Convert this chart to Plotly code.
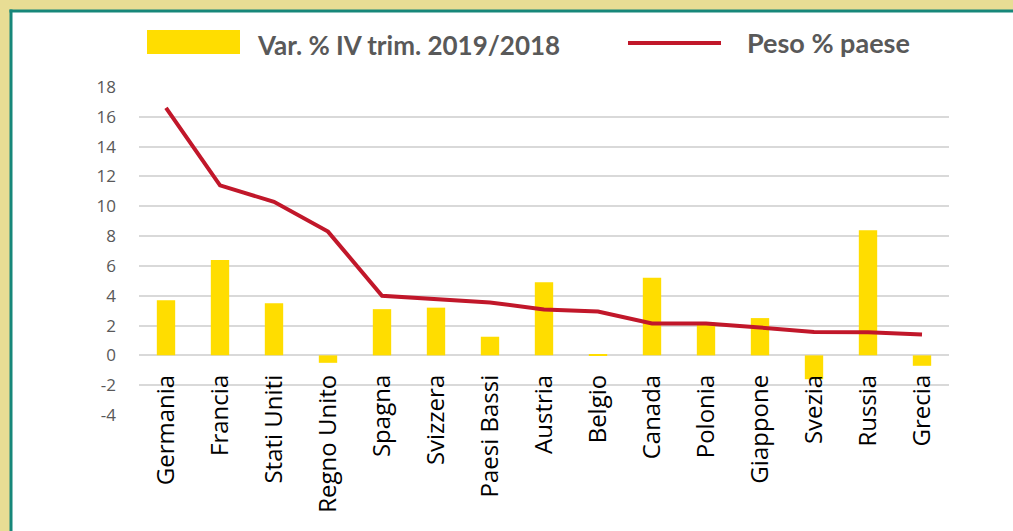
import plotly.graph_objects as go

categories = ["Germania", "Francia", "Stati Uniti", "Regno Unito", "Spagna", "Svizzera",
              "Paesi Bassi", "Austria", "Belgio", "Canada", "Polonia", "Giappone",
              "Svezia", "Russia", "Grecia"]
var_pct = [3.7, 6.4, 3.5, -0.5, 3.1, 3.2, 1.25, 4.9, 0.05, 5.2, 2.2, 2.5, -1.6, 8.4, -0.7]
peso_pct = [16.6, 11.4, 10.3, 8.3, 4.0, 3.8, 3.55, 3.08, 2.94, 2.14, 2.14, 1.87, 1.56, 1.55, 1.4]
y_ticks = list(range(-4, 19, 2))
y_tick_text = [str(v) for v in y_ticks]
bar_name = "Var. % IV trim. 2019/2018"
line_name = "Peso % paese"

W, H = 1013, 531
L, R, T, B = 139, 949, 87, 415
pw, ph = R - L, B - T


def px(x):
    return (x - L) / pw


def py(y):
    return (B - y) / ph


BEIGE = "#e8dd94"
TEAL = "#17877a"
YELLOW = "#ffdd00"
RED = "#c1172a"
GREY_TXT = "#595959"

fig = go.Figure()
fig.add_trace(go.Bar(x=categories, y=var_pct, name=bar_name, marker_color=YELLOW,
                     marker_line_width=0, width=0.34, showlegend=False))
fig.add_trace(go.Scatter(x=categories, y=peso_pct, name=line_name, mode="lines",
                         line=dict(color=RED, width=4), showlegend=False))

shapes = [
    # beige frame strips (left and top)
    dict(type="rect", xref="paper", yref="paper",
         x0=px(-5), x1=px(10), y0=py(-5), y1=py(H + 5),
         fillcolor=BEIGE, line=dict(width=0), layer="below"),
    dict(type="rect", xref="paper", yref="paper",
         x0=px(-5), x1=px(W + 5), y0=py(-5), y1=py(10),
         fillcolor=BEIGE, line=dict(width=0), layer="below"),
    # teal border lines
    dict(type="line", xref="paper", yref="paper",
         x0=px(11), x1=px(11), y0=py(9.5), y1=py(H + 5),
         line=dict(color=TEAL, width=3)),
    dict(type="line", xref="paper", yref="paper",
         x0=px(9.5), x1=px(W + 5), y0=py(11), y1=py(11),
         line=dict(color=TEAL, width=3)),
    # legend swatches
    dict(type="rect", xref="paper", yref="paper",
         x0=px(147), x1=px(240), y0=py(30), y1=py(54),
         fillcolor=YELLOW, line=dict(width=0)),
    dict(type="line", xref="paper", yref="paper",
         x0=px(628), x1=px(721), y0=py(43), y1=py(43),
         line=dict(color=RED, width=4)),
]

annotations = [
    dict(text="<b>" + bar_name + "</b>", xref="paper", yref="paper",
         x=px(255), y=py(45), xanchor="left", yanchor="middle", showarrow=False,
         font=dict(family="Lato", size=26, color=GREY_TXT)),
    dict(text="<b>" + line_name + "</b>", xref="paper", yref="paper",
         x=px(745), y=py(42), xanchor="left", yanchor="middle", showarrow=False,
         font=dict(family="Lato", size=27, color=GREY_TXT)),
]

fig.update_layout(
    width=W, height=H,
    margin=dict(l=L, r=W - R, t=T, b=H - B, pad=0),
    paper_bgcolor="white", plot_bgcolor="rgba(0,0,0,0)",
    shapes=shapes, annotations=annotations,
    xaxis=dict(type="category", showgrid=False, showline=False, zeroline=False,
               ticks="", tickangle=-90, anchor="free", position=(B - 356) / ph,
               ticklabelstandoff=13,
               tickfont=dict(family="Open Sans", size=24, color="black")),
    yaxis=dict(range=[-4, 18], tickvals=y_ticks, ticktext=y_tick_text,
               showgrid=True, gridcolor="#d9d9d9",
               gridwidth=1.5, zeroline=False, showline=False, ticks="",
               ticklabelstandoff=22,
               tickfont=dict(family="Open Sans", size=17, color=GREY_TXT)),
    showlegend=False,
)

fig.write_html(
    "out.html", config={"displayModeBar": False},
    post_script=("document.body.style.margin='0';"
                 "document.body.style.overflow='hidden';"
                 "document.documentElement.style.overflow='hidden';"),
)
